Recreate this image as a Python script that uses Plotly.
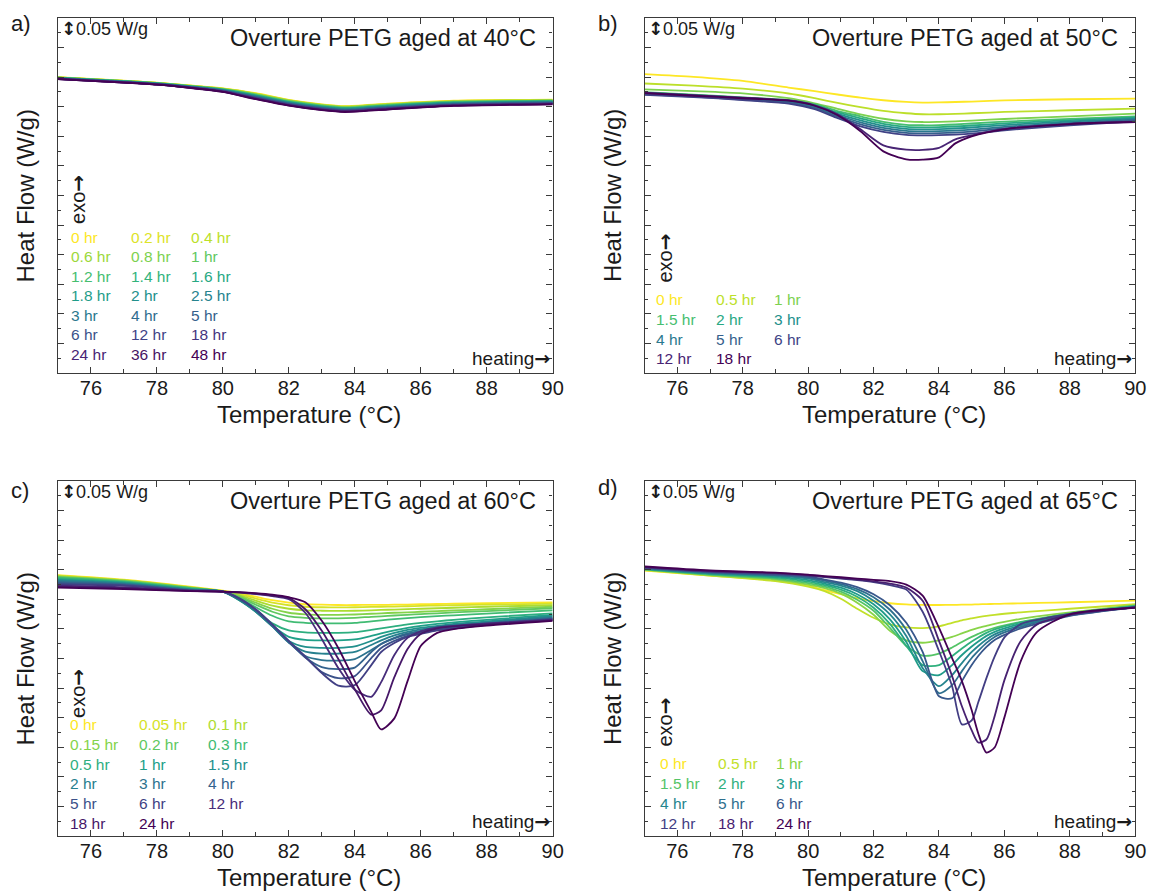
import plotly.graph_objects as go
from plotly.colors import sample_colorscale

W, H = 1151, 893
SX = 1.009          # small horizontal correction so the page lands on the reference grid
FONT = "Liberation Sans, Arial, sans-serif"
INK = "#1a1a1a"
FRAME = "#3a3a3a"
ARROW_FONT = "DejaVu Sans"

# ---------------- Panel a : aged at 40 °C ----------------
labels_40C = ["0 hr", "0.2 hr", "0.4 hr", "0.6 hr", "0.8 hr", "1 hr", "1.2 hr",
              "1.4 hr", "1.6 hr", "1.8 hr", "2 hr", "2.5 hr", "3 hr", "4 hr",
              "5 hr", "6 hr", "12 hr", "18 hr", "24 hr", "36 hr", "48 hr"]
temp_40C = [75, 77, 78, 79, 80, 81, 82, 83, 83.7, 85, 87, 90]
hf_40C = [
    [-.1000, -.1059, -.1093, -.1141, -.1190, -.1272, -.1382, -.1458, -.1489, -.1447, -.1396, -.1379],
    [-.1002, -.1061, -.1095, -.1143, -.1193, -.1277, -.1387, -.1463, -.1494, -.1452, -.1401, -.1383],
    [-.1003, -.1062, -.1096, -.1145, -.1196, -.1282, -.1392, -.1468, -.1499, -.1457, -.1405, -.1387],
    [-.1005, -.1064, -.1098, -.1147, -.1199, -.1287, -.1397, -.1473, -.1504, -.1462, -.1410, -.1391],
    [-.1007, -.1066, -.1100, -.1149, -.1202, -.1292, -.1402, -.1478, -.1509, -.1467, -.1414, -.1395],
    [-.1009, -.1068, -.1102, -.1151, -.1205, -.1297, -.1407, -.1483, -.1514, -.1472, -.1419, -.1399],
    [-.1010, -.1069, -.1103, -.1153, -.1208, -.1302, -.1412, -.1488, -.1519, -.1477, -.1423, -.1403],
    [-.1012, -.1071, -.1105, -.1155, -.1211, -.1307, -.1417, -.1493, -.1524, -.1482, -.1428, -.1407],
    [-.1014, -.1073, -.1107, -.1157, -.1214, -.1312, -.1422, -.1498, -.1529, -.1487, -.1432, -.1411],
    [-.1015, -.1074, -.1108, -.1159, -.1217, -.1317, -.1427, -.1503, -.1534, -.1492, -.1437, -.1415],
    [-.1017, -.1076, -.1110, -.1161, -.1220, -.1322, -.1432, -.1508, -.1539, -.1497, -.1441, -.1419],
    [-.1019, -.1078, -.1112, -.1163, -.1223, -.1327, -.1437, -.1513, -.1544, -.1502, -.1446, -.1423],
    [-.1020, -.1079, -.1113, -.1165, -.1226, -.1332, -.1442, -.1518, -.1549, -.1507, -.1450, -.1427],
    [-.1022, -.1081, -.1115, -.1167, -.1229, -.1337, -.1447, -.1523, -.1554, -.1512, -.1455, -.1431],
    [-.1024, -.1083, -.1117, -.1169, -.1232, -.1342, -.1452, -.1528, -.1559, -.1517, -.1459, -.1435],
    [-.1026, -.1085, -.1119, -.1171, -.1235, -.1347, -.1457, -.1533, -.1564, -.1522, -.1464, -.1439],
    [-.1027, -.1086, -.1120, -.1173, -.1238, -.1352, -.1462, -.1538, -.1569, -.1527, -.1468, -.1443],
    [-.1029, -.1088, -.1122, -.1175, -.1241, -.1357, -.1467, -.1543, -.1574, -.1532, -.1473, -.1447],
    [-.1031, -.1090, -.1124, -.1177, -.1244, -.1362, -.1472, -.1548, -.1579, -.1537, -.1477, -.1451],
    [-.1032, -.1091, -.1125, -.1179, -.1247, -.1367, -.1477, -.1553, -.1584, -.1542, -.1482, -.1455],
    [-.1034, -.1093, -.1127, -.1181, -.1250, -.1372, -.1482, -.1558, -.1589, -.1547, -.1486, -.1459],
]

# ---------------- Panel b : aged at 50 °C ----------------
labels_50C = ["0 hr", "0.5 hr", "1 hr", "1.5 hr", "2 hr", "3 hr", "4 hr", "5 hr",
              "6 hr", "12 hr", "18 hr"]
temp_50C = [75, 76.5, 78, 79.4, 80.2, 80.9, 81.6, 82.3, 83, 83.5, 84, 84.5, 85, 86, 88, 90]
hf_50C = [
    [-.0949, -.0995, -.1063, -.1175, -.1237, -.1293, -.1347, -.1390, -.1419, -.1429, -.1427, -.1420, -.1412, -.1393, -.1373, -.1361],
    [-.1107, -.1144, -.1195, -.1276, -.1356, -.1436, -.1508, -.1571, -.1610, -.1627, -.1627, -.1620, -.1610, -.1588, -.1559, -.1531],
    [-.1208, -.1237, -.1275, -.1356, -.1441, -.1534, -.1627, -.1703, -.1746, -.1758, -.1754, -.1746, -.1734, -.1707, -.1661, -.1615],
    [-.1255, -.1294, -.1344, -.1388, -.1457, -.1572, -.1661, -.1754, -.1805, -.1813, -.1810, -.1800, -.1783, -.1752, -.1705, -.1661],
    [-.1263, -.1302, -.1352, -.1400, -.1474, -.1596, -.1695, -.1788, -.1839, -.1847, -.1844, -.1834, -.1817, -.1781, -.1727, -.1678],
    [-.1272, -.1311, -.1361, -.1412, -.1491, -.1620, -.1729, -.1822, -.1873, -.1881, -.1878, -.1868, -.1851, -.1810, -.1749, -.1695],
    [-.1280, -.1319, -.1369, -.1424, -.1508, -.1644, -.1763, -.1856, -.1907, -.1915, -.1912, -.1902, -.1885, -.1839, -.1771, -.1712],
    [-.1289, -.1328, -.1378, -.1436, -.1525, -.1668, -.1797, -.1890, -.1941, -.1949, -.1946, -.1936, -.1919, -.1868, -.1793, -.1729],
    [-.1297, -.1336, -.1386, -.1448, -.1542, -.1692, -.1831, -.1924, -.1975, -.1983, -.1980, -.1970, -.1953, -.1897, -.1815, -.1746],
    [-.1263, -.1305, -.1347, -.1390, -.1475, -.1627, -.1881, -.2153, -.2225, -.2229, -.2195, -.2051, -.1983, -.1873, -.1788, -.1758],
    [-.1271, -.1314, -.1356, -.1398, -.1483, -.1644, -.1915, -.2254, -.2390, -.2395, -.2356, -.2119, -.2000, -.1881, -.1792, -.1758],
]

# ---------------- Panel c : aged at 60 °C ----------------
labels_60C = ["0 hr", "0.05 hr", "0.1 hr", "0.15 hr", "0.2 hr", "0.3 hr", "0.5 hr",
              "1 hr", "1.5 hr", "2 hr", "3 hr", "4 hr", "5 hr", "6 hr", "12 hr",
              "18 hr", "24 hr"]
temp_60C = [75, 77, 79, 80, 80.5, 81, 81.5, 82, 82.5, 83, 83.5, 84, 84.5, 84.8,
            85.2, 85.6, 86, 86.5, 87, 88, 90]
hf_60C = [
    [-.1590, -.1666, -.1785, -.1853, -.1896, -.1955, -.2015, -.2057, -.2083, -.2091, -.2096, -.2096, -.2094, -.2093, -.2091, -.2088, -.2083, -.2079, -.2074, -.2066, -.2052],
    [-.1598, -.1675, -.1794, -.1862, -.1913, -.1989, -.2057, -.2100, -.2125, -.2134, -.2137, -.2134, -.2128, -.2125, -.2122, -.2117, -.2111, -.2105, -.2100, -.2091, -.2074],
    [-.1607, -.1680, -.1799, -.1862, -.1930, -.2023, -.2108, -.2159, -.2185, -.2193, -.2196, -.2193, -.2185, -.2179, -.2173, -.2166, -.2159, -.2151, -.2142, -.2125, -.2100],
    [-.1615, -.1686, -.1802, -.1870, -.1947, -.2057, -.2159, -.2227, -.2253, -.2261, -.2261, -.2256, -.2244, -.2236, -.2227, -.2219, -.2210, -.2198, -.2188, -.2168, -.2125],
    [-.1624, -.1692, -.1805, -.1870, -.1964, -.2091, -.2210, -.2287, -.2312, -.2321, -.2321, -.2312, -.2295, -.2287, -.2273, -.2261, -.2249, -.2236, -.2222, -.2198, -.2151],
    [-.1632, -.1700, -.1811, -.1870, -.1981, -.2134, -.2278, -.2372, -.2397, -.2406, -.2406, -.2397, -.2372, -.2355, -.2334, -.2317, -.2300, -.2283, -.2270, -.2241, -.2185],
    [-.1649, -.1709, -.1819, -.1870, -.2015, -.2202, -.2406, -.2525, -.2559, -.2567, -.2567, -.2555, -.2516, -.2491, -.2457, -.2423, -.2397, -.2372, -.2346, -.2304, -.2236],
    [-.1666, -.1717, -.1828, -.1870, -.2015, -.2210, -.2448, -.2635, -.2686, -.2695, -.2695, -.2678, -.2618, -.2576, -.2525, -.2482, -.2448, -.2414, -.2389, -.2346, -.2261],
    [-.1675, -.1726, -.1833, -.1870, -.2006, -.2210, -.2457, -.2703, -.2805, -.2822, -.2822, -.2797, -.2703, -.2635, -.2567, -.2516, -.2482, -.2448, -.2414, -.2372, -.2278],
    [-.1683, -.1734, -.1836, -.1870, -.2006, -.2202, -.2457, -.2729, -.2882, -.2916, -.2916, -.2890, -.2771, -.2695, -.2610, -.2550, -.2508, -.2465, -.2431, -.2389, -.2295],
    [-.1700, -.1743, -.1839, -.1870, -.1998, -.2193, -.2448, -.2729, -.2958, -.3026, -.3035, -.3009, -.2856, -.2754, -.2652, -.2576, -.2533, -.2482, -.2448, -.2406, -.2312],
    [-.1717, -.1751, -.1845, -.1870, -.1998, -.2185, -.2440, -.2720, -.2984, -.3145, -.3179, -.3154, -.2890, -.2754, -.2661, -.2593, -.2550, -.2499, -.2465, -.2414, -.2321],
    [-.1734, -.1760, -.1848, -.1870, -.1989, -.2176, -.2431, -.2712, -.2975, -.3230, -.3332, -.3298, -.2992, -.2822, -.2703, -.2618, -.2567, -.2516, -.2482, -.2423, -.2329],
    [-.1751, -.1768, -.1853, -.1870, -.1981, -.2168, -.2423, -.2703, -.2967, -.3247, -.3460, -.3451, -.3111, -.2890, -.2737, -.2635, -.2584, -.2525, -.2491, -.2431, -.2338],
    [-.1768, -.1794, -.1853, -.1870, -.1887, -.1913, -.1947, -.1998, -.2227, -.2669, -.3162, -.3528, -.3647, -.3400, -.2941, -.2652, -.2542, -.2474, -.2448, -.2406, -.2346],
    [-.1785, -.1811, -.1858, -.1870, -.1884, -.1904, -.1935, -.1981, -.2168, -.2533, -.3009, -.3519, -.3949, -.3876, -.3315, -.2839, -.2584, -.2491, -.2457, -.2423, -.2355],
    [-.1802, -.1828, -.1862, -.1870, -.1879, -.1896, -.1921, -.1964, -.2049, -.2363, -.2822, -.3383, -.3902, -.4199, -.4012, -.3383, -.2788, -.2567, -.2504, -.2445, -.2363],
]

# ---------------- Panel d : aged at 65 °C ----------------
labels_65C = ["0 hr", "0.5 hr", "1 hr", "1.5 hr", "2 hr", "3 hr", "4 hr", "5 hr",
              "6 hr", "12 hr", "18 hr", "24 hr"]
temp_65C = [75, 77, 79, 80, 80.5, 81, 81.5, 82, 82.5, 83, 83.5, 84, 84.4, 84.7,
            85, 85.2, 85.45, 85.7, 86, 86.5, 87, 88, 90]
hf_65C = [
    [-.1513, -.1598, -.1683, -.1768, -.1845, -.1913, -.1981, -.2032, -.2066, -.2086, -.2094, -.2096, -.2094, -.2091, -.2088, -.2084, -.2081, -.2077, -.2074, -.2067, -.2060, -.2049, -.2023],
    [-.1505, -.1598, -.1692, -.1785, -.1862, -.1989, -.2159, -.2312, -.2423, -.2474, -.2487, -.2457, -.2397, -.2355, -.2321, -.2300, -.2278, -.2261, -.2244, -.2219, -.2198, -.2159, -.2083],
    [-.1499, -.1590, -.1666, -.1751, -.1811, -.1904, -.2057, -.2261, -.2533, -.2695, -.2734, -.2695, -.2635, -.2576, -.2516, -.2482, -.2448, -.2414, -.2380, -.2329, -.2287, -.2219, -.2100],
    [-.1496, -.1581, -.1649, -.1726, -.1785, -.1870, -.2006, -.2193, -.2482, -.2788, -.2950, -.2916, -.2814, -.2720, -.2635, -.2584, -.2525, -.2482, -.2440, -.2380, -.2329, -.2236, -.2108],
    [-.1491, -.1573, -.1632, -.1700, -.1760, -.1836, -.1955, -.2142, -.2414, -.2788, -.3111, -.3111, -.2958, -.2831, -.2712, -.2644, -.2567, -.2508, -.2457, -.2389, -.2338, -.2244, -.2117],
    [-.1486, -.1564, -.1615, -.1675, -.1734, -.1802, -.1913, -.2083, -.2338, -.2720, -.3213, -.3281, -.3111, -.2941, -.2797, -.2712, -.2618, -.2550, -.2491, -.2414, -.2355, -.2253, -.2122],
    [-.1479, -.1556, -.1598, -.1649, -.1709, -.1768, -.1862, -.2023, -.2253, -.2618, -.3162, -.3468, -.3281, -.3077, -.2890, -.2788, -.2678, -.2593, -.2525, -.2440, -.2372, -.2261, -.2125],
    [-.1474, -.1547, -.1590, -.1632, -.1683, -.1743, -.1828, -.1964, -.2176, -.2516, -.3043, -.3587, -.3451, -.3213, -.2992, -.2873, -.2737, -.2635, -.2559, -.2465, -.2389, -.2270, -.2130],
    [-.1469, -.1539, -.1581, -.1615, -.1666, -.1717, -.1794, -.1913, -.2100, -.2397, -.2890, -.3638, -.3672, -.3383, -.3111, -.2958, -.2805, -.2686, -.2601, -.2491, -.2414, -.2278, -.2134],
    [-.1462, -.1530, -.1564, -.1598, -.1624, -.1649, -.1675, -.1709, -.1760, -.1836, -.2210, -.2873, -.3468, -.4114, -.4046, -.3740, -.3332, -.2967, -.2644, -.2419, -.2346, -.2244, -.2134],
    [-.1454, -.1522, -.1556, -.1590, -.1615, -.1641, -.1666, -.1695, -.1734, -.1802, -.2023, -.2703, -.3298, -.3808, -.4216, -.4420, -.4369, -.3978, -.3366, -.2703, -.2423, -.2261, -.2137],
    [-.1445, -.1513, -.1547, -.1581, -.1607, -.1627, -.1649, -.1671, -.1692, -.1751, -.1938, -.2482, -.2992, -.3383, -.3876, -.4267, -.4590, -.4505, -.3995, -.3043, -.2550, -.2253, -.2142],
]

# ---------------- layout description (pixels) ----------------
panels = [
    dict(tag="a)", title="Overture PETG aged at 40°C", temps=temp_40C, hf=hf_40C, labels=labels_40C,
         box=(58, 18, 553, 373), tagxy=(21, 23),
         cols=[70, 130, 190], rows=[237, 256.5, 276, 295.5, 315, 334.5, 354], exo=(78, 199)),
    dict(tag="b)", title="Overture PETG aged at 50°C", temps=temp_50C, hf=hf_50C, labels=labels_50C,
         box=(645, 18, 1136, 373), tagxy=(608, 23),
         cols=[655, 715, 773], rows=[299, 319, 339, 359], exo=(665, 258)),
    dict(tag="c)", title="Overture PETG aged at 60°C", temps=temp_60C, hf=hf_60C, labels=labels_60C,
         box=(58, 481, 553, 836), tagxy=(20, 490),
         cols=[69, 138, 207], rows=[724, 744, 764, 783.5, 803, 823], exo=(78, 693)),
    dict(tag="d)", title="Overture PETG aged at 65°C", temps=temp_65C, hf=hf_65C, labels=labels_65C,
         box=(645, 481, 1136, 836), tagxy=(608, 488),
         cols=[659, 717, 775], rows=[763, 783, 803, 823], exo=(665, 722)),
]

fig = go.Figure()
annotations = []


def fx(px):
    return px * SX / W


def fy(py):
    return 1 - py / H


def add_text(text, px, py, size, color=INK, xanchor="center", yanchor="middle", angle=0):
    annotations.append(dict(
        text=text, x=fx(px), y=fy(py), xref="paper", yref="paper", showarrow=False,
        xanchor=xanchor, yanchor=yanchor, textangle=angle, borderpad=0,
        font=dict(size=size, color=color, family=FONT)))


def arrow(ch):
    return f"<span style='font-family:{ARROW_FONT}'><b>{ch}</b></span>"


layout_axes = {}
for i, p in enumerate(panels):
    n = "" if i == 0 else str(i + 1)
    L, T, R, B = p["box"]
    N = len(p["labels"])
    colors = sample_colorscale("Viridis", [1 - j / (N - 1) for j in range(N)])

    for j in range(N):
        fig.add_trace(go.Scatter(
            x=p["temps"], y=p["hf"][j], mode="lines",
            line=dict(color=colors[j], width=1.8, shape="spline", smoothing=0.7),
            xaxis="x" + n, yaxis="y" + n, showlegend=False, hoverinfo="skip"))

    layout_axes["xaxis" + n] = dict(
        domain=[fx(L), fx(R)], anchor="y" + n, range=[75, 90], dtick=2, tick0=0,
        ticks="inside", ticklen=6, tickwidth=1.2, tickcolor=FRAME,
        showline=True, linecolor=FRAME, linewidth=1.3, mirror="ticks",
        showgrid=False, zeroline=False, ticklabelstandoff=-3,
        tickfont=dict(size=20, color=INK, family=FONT),
        minor=dict(ticks="inside", dtick=1, ticklen=4, tickwidth=1.0, tickcolor=FRAME, showgrid=False))
    layout_axes["yaxis" + n] = dict(
        domain=[fy(B), fy(T)], anchor="x" + n, range=[-0.6, 0], dtick=0.05, tick0=0,
        ticks="inside", ticklen=6, tickwidth=1.2, tickcolor=FRAME, showticklabels=False,
        showline=True, linecolor=FRAME, linewidth=1.3, mirror="ticks",
        showgrid=False, zeroline=False,
        minor=dict(ticks="inside", dtick=0.025, ticklen=3, tickwidth=1.0, tickcolor=FRAME, showgrid=False))

    # texts
    add_text(p["tag"], p["tagxy"][0], p["tagxy"][1], 22)
    add_text(arrow("\u2195") + "0.05 W/g", L + 2, T + 10, 18, xanchor="left")
    add_text(p["title"], R - 16, T + 20, 23.5, xanchor="right")
    add_text("heating" + arrow("\u2192"), R - 2, B - 15, 19, xanchor="right")
    add_text("exo" + arrow("\u2192"), p["exo"][0], p["exo"][1], 20, angle=-90)
    add_text("Temperature (°C)", (L + R) / 2 + 4, B + 41, 24)
    add_text("Heat Flow (W/g)", L - 32, (T + B) / 2, 24, angle=-90)

    for j, lab in enumerate(p["labels"]):
        r, c = divmod(j, 3)
        add_text(lab, p["cols"][c], p["rows"][r], 15.5, color=colors[j], xanchor="left")

fig.update_layout(
    width=W, height=H, margin=dict(l=0, r=0, t=0, b=0), autosize=False,
    paper_bgcolor="white", plot_bgcolor="white",
    font=dict(family=FONT, color=INK),
    annotations=annotations, showlegend=False,
    **layout_axes)

fig.write_html(
    "out.html",
    config={"displayModeBar": False, "responsive": False},
    post_script=("document.documentElement.style.margin='0px';"
                 "document.documentElement.style.overflow='hidden';"
                 "document.body.style.margin='0px';"
                 "document.body.style.overflow='hidden';"),
)
